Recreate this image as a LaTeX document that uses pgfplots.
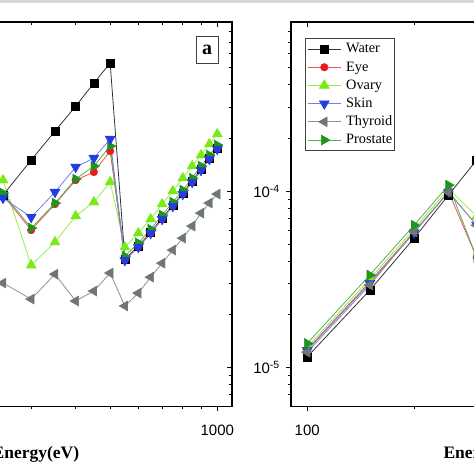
\documentclass[border=0pt]{standalone}
\usepackage{pgfplots}
\pgfplotsset{compat=1.18}
\usepackage{fontspec}
\setmainfont{Liberation Serif}
\newfontfamily\arial{Liberation Sans}
\definecolor{ceye}{RGB}{235,25,25}
\definecolor{covary}{RGB}{120,235,20}
\definecolor{cskin}{RGB}{35,60,230}
\definecolor{cthy}{RGB}{110,118,118}
\definecolor{cpro}{RGB}{30,150,30}
\definecolor{band}{RGB}{214,217,221}

\pgfplotsset{
  every axis/.append style={scale only axis, ymin=6e-6, ymax=9.1e-4,
    height=384.5pt, anchor=south west,
    axis line style={line width=1.2pt},
    major tick length=5pt, minor tick length=3pt,
    tick style={line width=0.9pt, black},
    ytick={1e-5,1e-4},
    minor ytick={7e-6,8e-6,9e-6,2e-5,3e-5,4e-5,5e-5,6e-5,7e-5,8e-5,9e-5,2e-4,3e-4,4e-4,5e-4,6e-4,7e-4,8e-4},
    xticklabel style={font=\arial\fontsize{15}{15}\selectfont},
    yticklabel style={font=\arial\fontsize{15}{15}\selectfont},
    xlabel style={font=\bfseries\fontsize{17.5}{17.5}\selectfont}},
  sWater/.style={color=black!80, line width=0.8pt, mark=square*, mark size=4pt,
    mark options={fill=black, draw=black, solid, line width=0.4pt}},
  sEye/.style={color=ceye!75, line width=0.8pt, mark=*, mark size=3.8pt,
    mark options={fill=ceye, draw=ceye, solid, line width=0.4pt}},
  sOvary/.style={color=covary!80, line width=0.8pt, mark=triangle*, mark size=5.8pt,
    mark options={fill=covary, draw=covary, solid, line width=0.4pt}},
  sSkin/.style={color=cskin!65, line width=0.8pt, mark=triangle*, mark size=5.8pt,
    mark options={fill=cskin, draw=cskin, solid, rotate=180, line width=0.4pt}},
  sThy/.style={color=cthy!80, line width=0.8pt, mark=triangle*, mark size=5.8pt,
    mark options={fill=cthy, draw=cthy, solid, rotate=90, line width=0.4pt}},
  sPro/.style={color=cpro!75, line width=0.8pt, mark=triangle*, mark size=5.8pt,
    mark options={fill=cpro, draw=cpro, solid, rotate=270, line width=0.4pt}},
}

\begin{document}
\begin{tikzpicture}
\fill[band] (0pt,471pt) rectangle (474pt,474pt);

% ---------------- left panel (a) ----------------
\begin{loglogaxis}[at={(-3.3pt,67.5pt)}, width=235.3pt, xmin=240, xmax=1100,
  xtick={1000}, xticklabels={1000}, minor xtick={300,400,500,600,700,800,900},
  xtick pos=left, ytick pos=left, tick align=outside, yticklabels={},
  xticklabel style={anchor=base, yshift=-24pt},
  xlabel={Energy(eV)},
  xlabel style={at={(axis description cs:0,0)}, anchor=base east, xshift=86pt, yshift=-51.8pt}]
\addplot[sThy] coordinates {(250,3.01e-5) (300,2.44e-5) (350,3.38e-5) (400,2.38e-5) (450,2.71e-5) (500,3.43e-5)
  (550,2.23e-5) (600,2.64e-5) (650,3.25e-5) (700,3.90e-5) (750,4.63e-5) (800,5.41e-5) (850,6.33e-5) (900,7.50e-5) (950,8.55e-5) (1000,9.62e-5)};
\addplot[sOvary] coordinates {(250,1.154e-4) (300,3.80e-5) (350,5.14e-5) (400,7.22e-5) (450,8.66e-5) (500,1.125e-4)
  (550,4.81e-5) (600,5.78e-5) (650,6.94e-5) (700,8.44e-5) (750,1.0e-4) (800,1.185e-4) (850,1.386e-4) (900,1.60e-4) (950,1.848e-4) (1000,2.106e-4)};
\addplot[sWater] coordinates {(250,9.49e-5) (300,1.50e-4) (350,2.19e-4) (400,3.03e-4) (450,4.10e-4) (500,5.32e-4)
  (550,4.11e-5) (600,4.88e-5) (650,5.85e-5) (700,7.03e-5) (750,8.33e-5) (800,9.74e-5) (850,1.139e-4) (900,1.333e-4) (950,1.539e-4) (1000,1.754e-4)};
\addplot[sEye] coordinates {(250,9.5e-5) (300,6.01e-5) (350,8.44e-5) (400,1.154e-4) (450,1.282e-4) (500,1.686e-4)
  (550,4.07e-5) (600,4.83e-5) (650,5.79e-5) (700,6.96e-5) (750,8.25e-5) (800,9.64e-5) (850,1.128e-4) (900,1.32e-4) (950,1.524e-4) (1000,1.737e-4)};
\addplot[sPro] coordinates {(250,9.74e-5) (300,6.17e-5) (350,8.55e-5) (400,1.170e-4) (450,1.386e-4) (500,1.800e-4)
  (550,4.27e-5) (600,5.08e-5) (650,6.08e-5) (700,7.31e-5) (750,8.66e-5) (800,1.013e-4) (850,1.185e-4) (900,1.386e-4) (950,1.60e-4) (1000,1.824e-4)};
\addplot[sSkin] coordinates {(250,9.13e-5) (300,7.12e-5) (350,9.87e-5) (400,1.368e-4) (450,1.539e-4) (500,1.972e-4)
  (550,4.05e-5) (600,4.81e-5) (650,5.77e-5) (700,6.93e-5) (750,8.21e-5) (800,9.60e-5) (850,1.123e-4) (900,1.314e-4) (950,1.517e-4) (1000,1.730e-4)};
\end{loglogaxis}
\begin{loglogaxis}[at={(-3.3pt,67.5pt)}, width=235.3pt, xmin=240, xmax=1100,
  xtick={1000}, minor xtick={300,400,500,600,700,800,900},
  tick align=inside, xtick pos=right, ytick pos=right,
  xticklabels={}, yticklabels={}, axis line style={draw=none}]
\addplot[draw=none] coordinates {(500,1e-4)};
\end{loglogaxis}
\node[draw=black!75, line width=0.8pt, minimum width=22.3pt, minimum height=27.3pt, inner sep=0pt,
  font=\bfseries\fontsize{20}{20}\selectfont] at (207.2pt,424.3pt) {a};

% ---------------- right panel ----------------
\begin{loglogaxis}[at={(291pt,67.5pt)}, width=386pt, xmin=90, xmax=1100,
  xtick={100}, xticklabels={100}, minor xtick={200,300,400,500,600,700,800,900},
  xtick pos=left, ytick pos=left, tick align=outside,
  yticklabels={{10\textsuperscript{-5}},{10\textsuperscript{-4}}},
  xticklabel style={anchor=base, yshift=-24pt},
  yticklabel style={anchor=east, inner sep=0pt, xshift=-6pt},
  xlabel={Energy(eV)},
  xlabel style={at={(axis description cs:0,0)}, anchor=base west, xshift=149pt, yshift=-51.8pt},
  legend cell align=left,
  legend image code/.code={\draw[mark repeat=2,mark phase=2,#1] plot coordinates {(0pt,0pt) (16.5pt,0pt) (33pt,0pt)};},
  legend style={at={(axis description cs:0,1)}, anchor=north west, xshift=14pt, yshift=-16.3pt,
    draw=black!75, line width=0.8pt, inner xsep=2pt, inner ysep=3.6pt, row sep=4.7pt, column sep=5pt,
    font=\fontsize{14.3}{16}\selectfont,
    nodes={inner sep=0pt, text height=10.5pt, text depth=3pt}}]
\addplot[sWater] coordinates {(100,1.148e-5) (150,2.74e-5) (200,5.41e-5) (250,9.5e-5) (300,1.50e-4) (350,2.19e-4)};
\addplot[sEye] coordinates {(100,1.265e-5) (150,3.06e-5) (200,5.88e-5) (250,9.91e-5) (300,4.2e-5)};
\addplot[sOvary] coordinates {(100,1.30e-5) (150,3.18e-5) (200,6.1e-5) (250,1.03e-4) (300,7.2e-5)};
\addplot[sSkin] coordinates {(100,1.25e-5) (150,3.0e-5) (200,5.8e-5) (250,9.9e-5) (300,6.4e-5)};
\addplot[sThy] coordinates {(100,1.22e-5) (150,2.93e-5) (200,5.88e-5) (250,9.85e-5) (300,6.4e-5)};
\addplot[sPro] coordinates {(100,1.368e-5) (150,3.34e-5) (200,6.41e-5) (250,1.081e-4) (300,4.2e-5)};
\legend{Water,Eye,Ovary,Skin,Thyroid,Prostate}
\end{loglogaxis}
\begin{loglogaxis}[at={(291pt,67.5pt)}, width=386pt, xmin=90, xmax=1100,
  xtick={100}, minor xtick={200,300,400,500,600,700,800,900},
  tick align=inside, xtick pos=right, ytick pos=right,
  xticklabels={}, yticklabels={}, axis line style={draw=none}]
\addplot[draw=none] coordinates {(500,1e-4)};
\end{loglogaxis}

\pgfresetboundingbox
\useasboundingbox (0pt,0pt) rectangle (474pt,474pt);
\end{tikzpicture}
\end{document}
